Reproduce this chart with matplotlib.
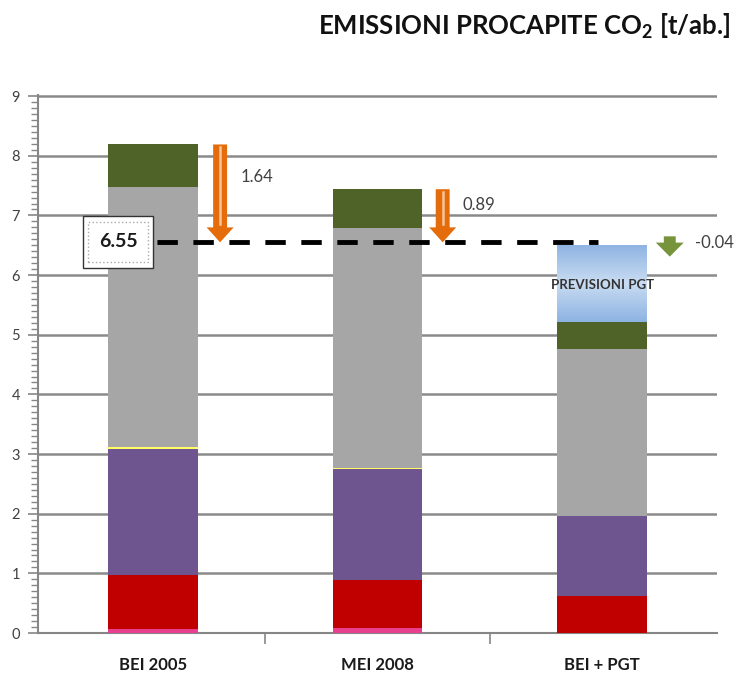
import numpy as np
import matplotlib.pyplot as plt
from matplotlib.patches import FancyArrow, Rectangle
from matplotlib.colors import LinearSegmentedColormap

# ==========================================
# DATI (t/ab. per settore)
# ==========================================
categorie = ['BEI 2005', 'MEI 2008', 'BEI + PGT']
rosa = [0.06, 0.08, 0.0]
rosso = [0.91, 0.81, 0.62]
viola = [2.11, 1.86, 1.34]
giallo = [0.04, 0.02, 0.01]
grigio = [4.35, 4.02, 2.79]
verde = [0.72, 0.65, 0.45]
previsioni = [0.0, 0.0, 1.30]

obiettivo = 6.55

strati = [rosa, rosso, viola, giallo, grigio, verde]
colori = ['#e8408f', '#c00000', '#6f5590', '#ffff66', '#a6a6a6', '#4f6228']

plt.rcParams['font.family'] = ['Lato', 'DejaVu Sans']
plt.rcParams['mathtext.fontset'] = 'custom'
plt.rcParams['mathtext.rm'] = 'Lato'
plt.rcParams['mathtext.bf'] = 'Lato:bold'

fig = plt.figure(figsize=(7.42, 6.73), dpi=100)
ax = fig.add_axes([0.0512, 0.0594, 0.9151, 0.7995])

x = np.arange(len(categorie))
larg = 0.4
base = np.zeros(len(categorie))
for valori, col in zip(strati, colori):
    ax.bar(x, valori, larg, bottom=base, color=col, zorder=3)
    base += np.array(valori)

# barra previsioni con gradiente azzurro
barre_prev = ax.bar(x, previsioni, larg, bottom=base, color='#8db3e2', zorder=3)
cmap_blu = LinearSegmentedColormap.from_list('blu', ['#8db3e2', '#c9dcf2', '#8db3e2'])
grad = np.linspace(1, 0, 200).reshape(-1, 1)
for b in barre_prev:
    if b.get_height() <= 0:
        continue
    im = ax.imshow(grad, cmap=cmap_blu, aspect='auto', zorder=3.5,
                   extent=[b.get_x(), b.get_x() + b.get_width(), b.get_y(), b.get_y() + b.get_height()])
    im.set_clip_path(b)
    ax.text(b.get_x() + b.get_width() / 2, b.get_y() + b.get_height() * 0.48, 'PREVISIONI PGT',
            ha='center', va='center', fontsize=9.5, fontweight='bold', color='#333333', zorder=6)

totali = base + np.array(previsioni)

# ==========================================
# LINEA OBIETTIVO + FRECCE
# ==========================================
ax.plot([-0.3, 1.98], [obiettivo, obiettivo], color='black', lw=3.5, dashes=(4.2, 3.2), zorder=4)

off_testo = [0.55, 0.27]
for i in range(2):
    xa = x[i] + 0.30 - (0.01 if i else 0)
    delta = totali[i] - obiettivo
    ax.add_patch(FancyArrow(xa, totali[i], 0, -delta, width=0.062, head_width=0.12, head_length=0.25,
                            length_includes_head=True, color='#e46c0a', lw=0, zorder=5))
    ax.plot([xa, xa], [totali[i] - 0.05, obiettivo + 0.3], color='#f9c49a', lw=1.8, zorder=6)
    ax.text(xa + 0.09, totali[i] - off_testo[i], f'{delta:.2f}', fontsize=12,
            color='#404040', va='center', zorder=6)

delta3 = totali[2] - obiettivo
ax.add_patch(FancyArrow(2.30, obiettivo + 0.10, 0, -0.34, width=0.053, head_width=0.124, head_length=0.235,
                        length_includes_head=True, color='#77933c', lw=0, zorder=5))
ax.text(2.41, obiettivo - 0.02, f'{delta3:.2f}', fontsize=12, color='#404040', va='center', zorder=6)

# ==========================================
# ASSI
# ==========================================
ax.set_xlim(-0.51, 2.51)
ax.set_ylim(0, 9.02)
ax.set_yticks(range(10))
ax.set_yticks(np.arange(0, 9.01, 0.1), minor=True)
ax.set_xticks(x)
ax.set_xticklabels(categorie, fontsize=12, fontweight='bold', color='#1a1a1a')
ax.set_xticks([0.5, 1.5], minor=True)
ax.tick_params(axis='x', which='major', length=0, pad=17)
ax.tick_params(axis='x', which='minor', length=8, color='#868686', width=1.2)
ax.tick_params(axis='y', which='major', length=7, color='#868686', width=1.2,
               labelsize=10.5, labelcolor='#404040', pad=6)
ax.tick_params(axis='y', which='minor', length=5, color='#868686', width=1.0)
ax.grid(axis='y', color='#8a8a8a', lw=1.8, zorder=1)
ax.set_axisbelow(True)
for s in ['top', 'right']:
    ax.spines[s].set_visible(False)
for s in ['left', 'bottom']:
    ax.spines[s].set_color('#868686')
    ax.spines[s].set_linewidth(1.5)

# riquadro valore obiettivo
fig.patches.append(Rectangle((0.112, 0.602), 0.094, 0.077, transform=fig.transFigure,
                             facecolor='white', edgecolor='#333333', lw=1.0, zorder=7))
fig.patches.append(Rectangle((0.119, 0.611), 0.080, 0.059, transform=fig.transFigure,
                             facecolor='none', edgecolor='#aaaaaa', lw=1.0, ls=':', zorder=7))
fig.text(0.159, 0.641, f'{obiettivo:.2f}', fontsize=14, fontweight='bold', color='#1a1a1a',
         ha='center', va='center', zorder=8)

fig.text(0.984, 0.961, r'EMISSIONI PROCAPITE CO$_\mathbf{2}$ [t/ab.]', fontsize=18.5, fontweight='bold',
         ha='right', va='center', color='#111111')

plt.savefig('out.png', dpi=100)
